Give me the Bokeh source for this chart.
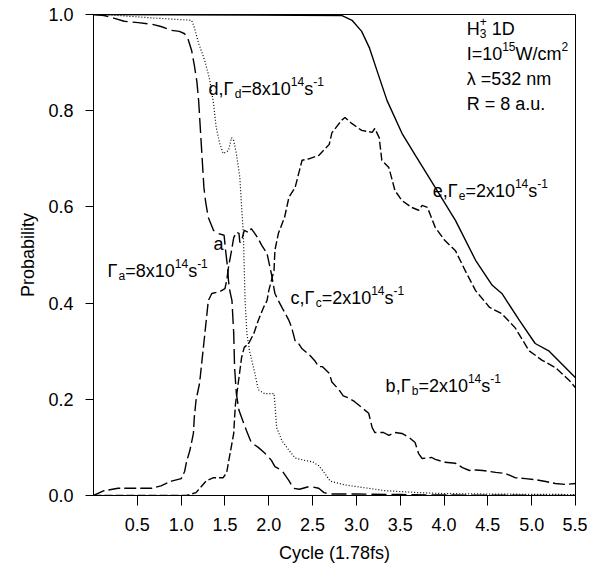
from bokeh.plotting import figure
from bokeh.models import Label, FixedTicker, Range1d
from bokeh.embed import file_html
from bokeh.resources import INLINE

# ---------------- data ----------------
xa = [0, 0.12, 0.24, 0.35, 0.51, 0.66, 0.77, 0.89, 0.98, 1.04, 1.08, 1.12, 1.15, 1.18, 1.2, 1.22,
      1.24, 1.26, 1.28, 1.31, 1.37, 1.42, 1.49, 1.51, 1.53, 1.54, 1.555, 1.58, 1.6, 1.61, 1.63,
      1.66, 1.69, 1.745, 1.8, 1.88, 1.95, 2.03, 2.07, 2.15, 2.23, 2.28, 2.35, 2.47, 2.57, 2.63,
      2.7, 3.0, 3.5, 4.0, 5.5]
ya = [1.0, 0.998, 0.992, 0.986, 0.983, 0.98, 0.975, 0.967, 0.965, 0.96, 0.948, 0.925, 0.895,
      0.86, 0.82, 0.76, 0.70, 0.64, 0.61, 0.578, 0.551, 0.545, 0.541, 0.505, 0.474, 0.447, 0.426,
      0.405, 0.337, 0.266, 0.212, 0.177, 0.162, 0.135, 0.11, 0.1, 0.089, 0.073, 0.06, 0.052,
      0.031, 0.015, 0.013, 0.019, 0.015, 0.006, 0.003, 0.003, 0.002, 0.001, 0.0]

xb = [0, 0.12, 0.28, 0.66, 0.77, 0.89, 1.0, 1.04, 1.06, 1.1, 1.14, 1.15, 1.17, 1.21, 1.25, 1.29,
      1.31, 1.35, 1.44, 1.5, 1.52, 1.54, 1.575, 1.6, 1.63, 1.66, 1.67, 1.69, 1.72, 1.77, 1.8,
      1.84, 1.88, 1.92, 1.98, 2.03, 2.07, 2.11, 2.15, 2.23, 2.26, 2.3, 2.34, 2.38, 2.46, 2.53,
      2.57, 2.61, 2.69, 2.72, 2.8, 2.85, 2.91, 2.98, 3.06, 3.14, 3.18, 3.21, 3.31, 3.37, 3.44,
      3.52, 3.6, 3.67, 3.71, 3.75, 3.86, 3.9, 4.01, 4.13, 4.21, 4.29, 4.36, 4.44, 4.59, 4.7,
      4.81, 4.93, 5.04, 5.16, 5.27, 5.39, 5.5]
yb = [0, 0.01, 0.015, 0.015, 0.02, 0.03, 0.035, 0.05, 0.069, 0.094, 0.129, 0.162, 0.198, 0.233,
      0.301, 0.37, 0.405, 0.42, 0.424, 0.43, 0.447, 0.474, 0.509, 0.536, 0.547, 0.545, 0.526,
      0.53, 0.551, 0.547, 0.555, 0.545, 0.534, 0.52, 0.503, 0.461, 0.42, 0.405, 0.391, 0.364,
      0.35, 0.322, 0.316, 0.305, 0.293, 0.279, 0.268, 0.268, 0.254, 0.236, 0.22, 0.207, 0.203,
      0.195, 0.183, 0.171, 0.141, 0.131, 0.131, 0.125, 0.131, 0.129, 0.121, 0.11, 0.087, 0.077,
      0.079, 0.075, 0.069, 0.067, 0.058, 0.052, 0.053, 0.052, 0.048, 0.046, 0.037, 0.035, 0.033,
      0.029, 0.025, 0.023, 0.025]

xc = [0, 1.06, 1.17, 1.29, 1.37, 1.48, 1.52, 1.55, 1.6, 1.61, 1.62, 1.66, 1.69, 1.72, 1.77, 1.83,
      1.88, 1.94, 1.98, 2.0, 2.06, 2.07, 2.11, 2.18, 2.23, 2.3, 2.38, 2.46, 2.57, 2.69, 2.72,
      2.83, 2.87, 2.95, 3.06, 3.18, 3.21, 3.26, 3.29, 3.37, 3.44, 3.52, 3.63, 3.71, 3.75, 3.81,
      3.9, 4.01, 4.13, 4.24, 4.36, 4.52, 4.66, 4.81, 4.97, 5.12, 5.27, 5.43, 5.5]
yc = [0, 0, 0.006, 0.031, 0.037, 0.037, 0.048, 0.079, 0.129, 0.162, 0.19, 0.245, 0.287, 0.308,
      0.316, 0.337, 0.364, 0.391, 0.405, 0.426, 0.468, 0.51, 0.545, 0.578, 0.62, 0.64, 0.697,
      0.70, 0.707, 0.73, 0.754, 0.78, 0.786, 0.773, 0.759, 0.755, 0.763, 0.744, 0.697, 0.682,
      0.634, 0.613, 0.599, 0.593, 0.603, 0.599, 0.557, 0.53, 0.509, 0.468, 0.426, 0.391, 0.378,
      0.349, 0.301, 0.281, 0.266, 0.239, 0.224]

xd = [0, 0.2, 0.66, 1.12, 1.15, 1.2, 1.27, 1.32, 1.37, 1.4, 1.44, 1.48, 1.54, 1.575, 1.6, 1.63,
      1.67, 1.69, 1.71, 1.72, 1.73, 1.75, 1.78, 1.84, 1.88, 1.95, 2.06, 2.07, 2.09, 2.15, 2.23,
      2.3, 2.41, 2.5, 2.57, 2.64, 2.7, 2.87, 3.06, 3.33, 3.71, 4.0, 4.5, 5.5]
yd = [1.0, 0.999, 0.993, 0.988, 0.973, 0.94, 0.904, 0.869, 0.815, 0.765, 0.732, 0.711, 0.717,
      0.744, 0.738, 0.711, 0.661, 0.6, 0.545, 0.474, 0.405, 0.337, 0.301, 0.255, 0.22, 0.212,
      0.212, 0.191, 0.141, 0.114, 0.094, 0.078, 0.073, 0.07, 0.062, 0.046, 0.03, 0.022, 0.017,
      0.01, 0.006, 0.004, 0.003, 0.002]

xe = [0, 2.83, 2.95, 3.06, 3.15, 3.25, 3.35, 3.52, 3.68, 3.83, 4.13, 4.36, 4.55, 4.66, 4.86,
      5.04, 5.2, 5.5]
ye = [1.0, 0.998, 0.988, 0.965, 0.93, 0.875, 0.821, 0.753, 0.705, 0.661, 0.572, 0.489, 0.437,
      0.42, 0.364, 0.316, 0.30, 0.245]

x_ticks = [0.5, 1.0, 1.5, 2.0, 2.5, 3.0, 3.5, 4.0, 4.5, 5.0, 5.5]
y_ticks = [0.0, 0.2, 0.4, 0.6, 0.8, 1.0]

FONT = "Liberation Sans"
FS = 18
SS = 12

p = figure(frame_width=482, frame_height=481, x_range=Range1d(0, 5.5), y_range=Range1d(0, 1.0),
           output_backend="svg", toolbar_location=None,
           min_border_left=93, min_border_right=12, min_border_top=14, min_border_bottom=70)
p.xgrid.visible = False
p.ygrid.visible = False
p.outline_line_color = "black"
p.outline_line_width = 1
p.background_fill_color = "white"
p.border_fill_color = "white"

for ax in (p.xaxis[0], p.yaxis[0]):
    ax.axis_line_color = "black"
    ax.axis_line_width = 1
    ax.major_tick_line_color = "black"
    ax.major_tick_in = 0
    ax.minor_tick_line_color = None
    ax.major_label_text_font = FONT
    ax.major_label_text_font_size = f"{FS}px"
    ax.major_label_text_color = "black"
    ax.axis_label_text_font = FONT
    ax.axis_label_text_font_size = f"{FS}px"
    ax.axis_label_text_font_style = "normal"
    ax.axis_label_text_color = "black"

p.xaxis.ticker = FixedTicker(ticks=x_ticks)
p.xaxis.major_tick_out = 10
p.xaxis.major_label_standoff = 12
p.xaxis.axis_label = "Cycle (1.78fs)"
p.xaxis.axis_label_standoff = 9
p.xaxis.major_label_overrides = {t: f"{t:.1f}" for t in x_ticks}

p.yaxis.ticker = FixedTicker(ticks=y_ticks)
p.yaxis.major_tick_out = 8
p.yaxis.major_label_standoff = 12
p.yaxis.axis_label = "Probability"
p.yaxis.axis_label_standoff = 7
p.yaxis.major_label_overrides = {t: f"{t:.1f}" for t in y_ticks}

p.line(xa, ya, line_color="black", line_width=1.4, line_dash="15 5")
p.line(xb, yb, line_color="black", line_width=1.4, line_dash="12 4")
p.line(xc, yc, line_color="black", line_width=1.4, line_dash="8 3")
p.line(xd, yd, line_color="black", line_width=1.2, line_dash="1 2")
p.line(xe, ye, line_color="black", line_width=1.4)

# ---------------- rich-text annotations ----------------
AW = {' ': 278, ',': 278, '=': 584, 'x': 500, 's': 500, '-': 333, 'a': 556, 'b': 556, 'c': 500,
      'd': 556, 'e': 556, 'Γ': 615, 'H': 722, 'D': 722, 'I': 278, 'W': 944, '/': 278, 'm': 833,
      'λ': 556, 'n': 556, 'R': 722, '.': 278, 'u': 556, '+': 584}


def tw(s, fs):
    return sum(AW.get(ch, 556) for ch in s) * fs / 1000.0


def px2x(px):
    return (px - 93.0) / 87.6


def px2y(py):
    return (495.0 - py) / 481.0


def rich(px, py, parts):
    off = 0.0
    for txt, kind in parts:
        if kind == "gap":
            off += tw(" ", FS)
            continue
        fs = FS if kind == "n" else SS
        yo = {"n": 0, "sub": -5, "sup": 7, "subx": -5}[kind]
        p.add_layout(Label(x=px2x(px), y=px2y(py), x_offset=off, y_offset=yo, text=txt,
                           text_font=FONT, text_font_size=f"{fs}px", text_color="black",
                           text_baseline="alphabetic", text_align="left"))
        if kind != "subx":
            off += tw(txt, fs)


def gamma_label(px, py, letter, val):
    rich(px, py, [(f"{letter},Γ", "n"), (letter, "sub"), (f"={val}x10", "n"), ("14", "sup"),
                  ("s", "n"), ("-1", "sup")])


rich(466, 28, [("H", "n"), ("3", "subx"), ("+", "sup"), ("", "gap"), ("1D", "n")])
rich(466, 53, [("I=10", "n"), ("15", "sup"), ("W/cm", "n"), ("2", "sup")])
rich(466, 78, [("λ =532 nm", "n")])
rich(466, 103, [("R = 8 a.u.", "n")])

gamma_label(208, 88, "d", 8)
gamma_label(432, 190, "e", 2)
gamma_label(290, 297, "c", 2)
gamma_label(385, 385, "b", 2)
rich(213, 243, [("a", "n")])
rich(107, 270, [("Γ", "n"), ("a", "sub"), ("=8x10", "n"), ("14", "sup"), ("s", "n"), ("-1", "sup")])

open("out.html", "w").write(file_html(p, INLINE))
